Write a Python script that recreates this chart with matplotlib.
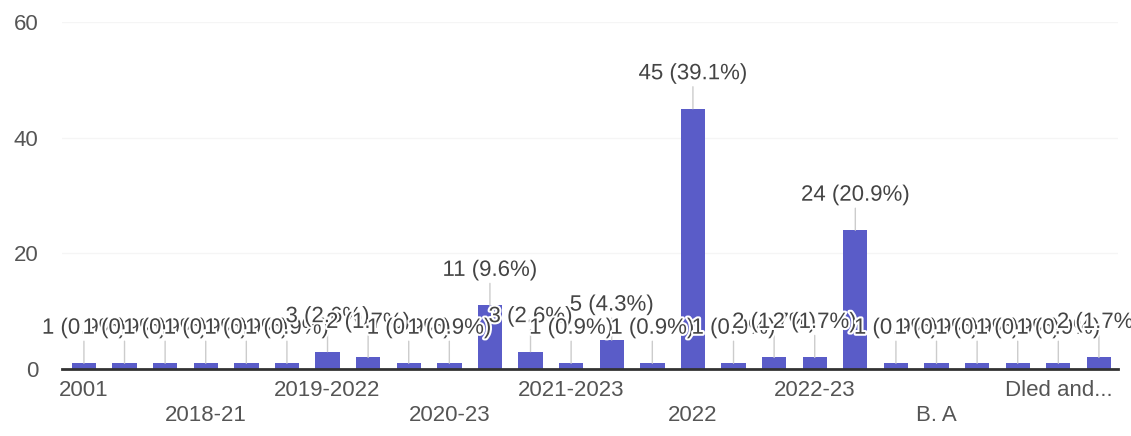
import matplotlib
matplotlib.use("Agg")
import matplotlib.pyplot as plt
import matplotlib.patheffects as pe

categories = ["2001", "2005", "2018", "2018-21", "2018-22", "2019",
              "2019-2022", "2019-23", "2020", "2020-23", "2020-24", "2021",
              "2021-2023", "2021-22", "2021-24", "2022", "2022-2023", "2022-2024",
              "2022-23", "2023", "2024", "B. A", "B.Sc", "Currently",
              "Dled and...", "M. A"]
values = [1, 1, 1, 1, 1, 1, 3, 2, 1, 1, 11, 3, 1, 5, 1, 45, 1, 2, 2, 24, 1, 1, 1, 1, 1, 2]
yticks = [0, 20, 40, 60]

total = sum(values)
plt.rcParams['font.family'] = ['Liberation Sans', 'DejaVu Sans']

fig = plt.figure(figsize=(11.31, 4.36), dpi=100)
ax = fig.add_axes([62/1131, (436-369)/436, (1118-62)/1131, (369-22)/436])

x = list(range(len(values)))
ax.bar(x, values, width=0.6, color='#5a5cc8', zorder=2)

ax.set_ylim(0, 60)
ax.set_xlim(-0.54, len(values) - 1 + 0.47)
ax.set_yticks(yticks)
ax.set_yticklabels([str(t) for t in yticks])
ax.grid(axis='y', color='#f5f5f5', lw=1, zorder=0)

shown = list(range(0, len(categories), 3))
labels = []
for k, i in enumerate(shown):
    labels.append(categories[i] if k % 2 == 0 else "\n" + categories[i])
ax.set_xticks(shown)
ax.set_xticklabels(labels, linespacing=1.25)
ax.tick_params(axis='both', length=0, labelsize=16, labelcolor='#555555')
ax.tick_params(axis='y', pad=17)
ax.tick_params(axis='x', pad=8)

for s in ['top', 'right', 'left']:
    ax.spines[s].set_visible(False)
ax.spines['bottom'].set_color('#333333')
ax.spines['bottom'].set_linewidth(2)
ax.spines['bottom'].set_zorder(4)

for i, v in zip(x, values):
    ax.annotate("", xy=(i, v), xytext=(0, 22), textcoords='offset pixels',
                arrowprops=dict(arrowstyle='-', color='#cccccc', lw=1,
                                shrinkA=0, shrinkB=0), zorder=3)

for i, v in zip(x, values):
    pct = 100.0 * v / total
    ax.annotate(f"{v} ({pct:.1f}%)", xy=(i, v), xytext=(0, 35),
                textcoords='offset pixels', ha='center', va='center',
                fontsize=16, color='#444444', zorder=5,
                path_effects=[pe.withStroke(linewidth=3, foreground='white')])

fig.savefig("out.png", dpi=100, facecolor='white')
